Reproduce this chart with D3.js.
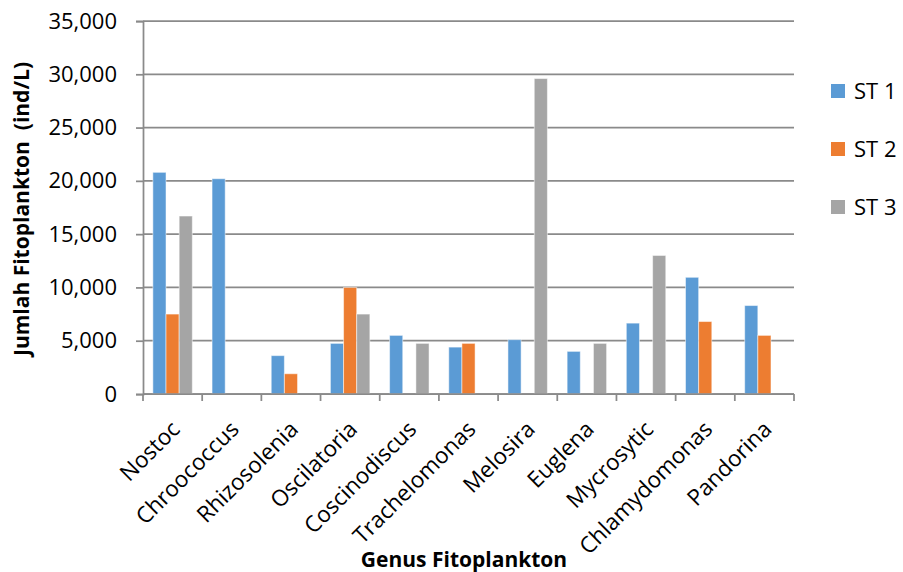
<!DOCTYPE html>
<html>
<head>
<meta charset="utf-8">
<script src="https://cdn.jsdelivr.net/npm/d3@7"></script>
<style>
  body { margin: 0; background: #fff; }
  svg { font-family: "Open Sans", sans-serif; }
</style>
</head>
<body>
<svg id="svg1" width="903" height="572"></svg>
<script>
// values (ind/L)
var genus = ['Nostoc', 'Chroococcus', 'Rhizosolenia', 'Oscilatoria', 'Coscinodiscus',
    'Trachelomonas', 'Melosira', 'Euglena', 'Mycrosytic', 'Chlamydomonas', 'Pandorina'];
var st1 = [20800, 20200, 3600, 4750, 5500, 4400, 5100, 4000, 6650, 10950, 8300];
var st2 = [7500, 0, 1900, 10000, 0, 4750, 0, 0, 0, 6800, 5500];
var st3 = [16700, 0, 0, 7500, 4750, 0, 29600, 4750, 13000, 0, 0];
var seriesNames = ['ST 1', 'ST 2', 'ST 3'];
var seriesColors = ['#5b9bd5', '#ed7d31', '#a5a5a5'];
var yTicks = [0, 5000, 10000, 15000, 20000, 25000, 30000, 35000];

var series = [st1, st2, st3];

var svg = d3.select('svg');

var plotLeft = 143, plotRight = 794, plotTop = 21, plotBottom = 394;
var gridColor = '#8a8a8a';

var x = d3.scaleBand()
    .domain(genus)
    .range([plotLeft, plotRight])
    .paddingInner(1 / 3)
    .paddingOuter(1 / 6);

var xInner = d3.scaleBand()
    .domain(d3.range(series.length))
    .range([0, x.bandwidth()]);

var y = d3.scaleLinear()
    .domain([0, 35000])
    .range([plotBottom, plotTop]);

//horizontal gridlines
svg.append('g')
    .selectAll('line')
    .data(yTicks)
    .enter()
    .append('line')
    .attr('x1', plotLeft)
    .attr('x2', plotRight)
    .attr('y1', function(d) { return y(d); })
    .attr('y2', function(d) { return y(d); })
    .attr('stroke', gridColor)
    .attr('stroke-width', 1.75);

//y axis
var yAxis = svg.append('g')
    .attr('transform', 'translate(' + plotLeft + ',0)')
    .call(d3.axisLeft(y)
        .tickValues(yTicks)
        .tickSize(7)
        .tickPadding(19)
        .tickFormat(d3.format(',')));

yAxis.selectAll('text')
    .attr('font-size', 22)
    .attr('font-family', '"Open Sans", sans-serif')
    .attr('fill', '#000');

//bars, one group per genus
var groups = svg.append('g')
    .selectAll('g')
    .data(genus)
    .enter()
    .append('g')
    .attr('transform', function(d) { return 'translate(' + x(d) + ',0)'; });

groups.selectAll('rect')
    .data(function(d, i) {
        return series.map(function(s, k) { return {k: k, value: s[i]}; });
    })
    .enter()
    .filter(function(d) { return d.value > 0; })
    .append('rect')
    .attr('x', function(d) { return xInner(d.k); })
    .attr('width', xInner.bandwidth())
    .attr('y', function(d) { return y(d.value); })
    .attr('height', function(d) { return y(0) - y(d.value); })
    .attr('fill', function(d) { return seriesColors[d.k]; })
    .attr('stroke', 'rgba(255,255,255,0.5)')
    .attr('stroke-width', 1);

//x axis line and category boundary ticks
var step = x.step();
var boundaries = d3.range(genus.length + 1).map(function(i) { return plotLeft + i * step; });

svg.append('line')
    .attr('x1', plotLeft)
    .attr('x2', plotRight)
    .attr('y1', plotBottom)
    .attr('y2', plotBottom)
    .attr('stroke', gridColor)
    .attr('stroke-width', 1.75);

svg.append('g')
    .selectAll('line')
    .data(boundaries)
    .enter()
    .append('line')
    .attr('x1', function(d) { return d; })
    .attr('x2', function(d) { return d; })
    .attr('y1', plotBottom)
    .attr('y2', plotBottom + 7)
    .attr('stroke', gridColor)
    .attr('stroke-width', 1.75);

yAxis.selectAll('line, path')
    .attr('stroke', gridColor)
    .attr('stroke-width', 1.75);

//rotated category labels
svg.append('g')
    .selectAll('text')
    .data(genus)
    .enter()
    .append('text')
    .attr('transform', function(d) {
        return 'translate(' + (x(d) + x.bandwidth() / 2 + 3) + ',' + (plotBottom + 31) + ') rotate(-45)';
    })
    .attr('text-anchor', 'end')
    .attr('dy', '0.35em')
    .attr('font-size', 22.5)
    .attr('fill', '#000')
    .text(function(d) { return d; });

//axis titles
svg.append('text')
    .attr('x', 464)
    .attr('y', 567)
    .attr('text-anchor', 'middle')
    .attr('font-size', 21)
    .attr('font-weight', 'bold')
    .text('Genus Fitoplankton');

svg.append('text')
    .attr('transform', 'translate(22,209) rotate(-90)')
    .attr('text-anchor', 'middle')
    .attr('dy', '0.35em')
    .attr('font-size', 21)
    .attr('font-weight', 'bold')
    .text('Jumlah Fitoplankton\u00a0 (ind/L)');

//legend
var legend = svg.append('g')
    .selectAll('g')
    .data(seriesNames)
    .enter()
    .append('g')
    .attr('transform', function(d, i) { return 'translate(831,' + (91 + i * 58) + ')'; });

legend.append('rect')
    .attr('x', 0)
    .attr('y', -7)
    .attr('width', 14)
    .attr('height', 14)
    .attr('fill', function(d, i) { return seriesColors[i]; });

legend.append('text')
    .attr('x', 23)
    .attr('dy', '0.35em')
    .attr('font-size', 22)
    .attr('fill', '#000')
    .text(function(d) { return d; });
</script>
</body>
</html>
